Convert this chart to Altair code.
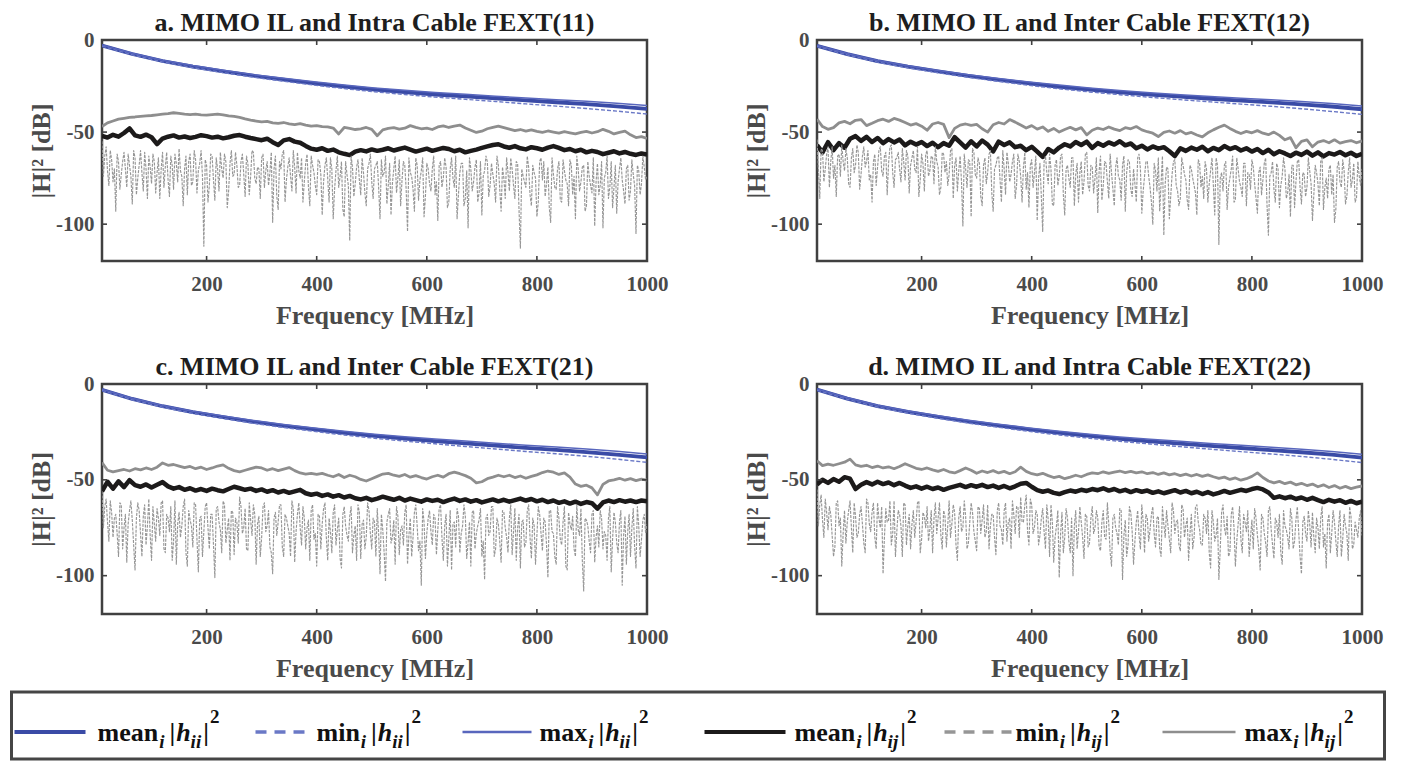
import numpy as np
import pandas as pd
import altair as alt

FONT = "Liberation Serif"
AXIS_COLOR = "#404040"
LABEL_COLOR = "#4a4a4a"
TITLE_COLOR = "#1e1e1e"

BLUE_MEAN = "#3a4ba6"
BLUE_MIN = "#6a78c6"
BLUE_MAX = "#5866bd"
BLACK = "#1c1a1a"
GRAY_MIN = "#969696"
GRAY_MAX = "#8e8e8e"

F_MIN, F_MAX = 10, 1000
X_TICKS = [200, 400, 600, 800, 1000]
Y_TICKS = [0, -50, -100]

TITLES = [
    "a. MIMO IL and Intra Cable FEXT(11)",
    "b. MIMO IL and Inter Cable FEXT(12)",
    "c. MIMO IL and Inter Cable FEXT(21)",
    "d. MIMO IL and Intra Cable FEXT(22)",
]

# ---------------- insertion loss |h_ii|^2 (19 points, 10..1000 MHz) ----------------
A_II_MEAN = [-3.0, -7.6, -11.4, -14.4, -17.0, -19.4, -21.5, -23.5, -25.3, -26.9, -28.3, -29.6, -30.6, -31.7, -32.8, -33.8, -34.8, -36.0, -37.4]
A_II_MIN = [-3.3, -8.0, -11.9, -15.0, -17.7, -20.2, -22.4, -24.5, -26.4, -28.1, -29.6, -31.0, -32.2, -33.4, -34.7, -35.9, -37.2, -38.6, -40.2]
A_II_MAX = [-2.7, -7.2, -11.0, -13.9, -16.4, -18.8, -20.8, -22.7, -24.4, -26.0, -27.3, -28.5, -29.5, -30.5, -31.5, -32.4, -33.3, -34.4, -35.6]

B_II_MEAN = [-3.1, -7.7, -11.5, -14.5, -17.1, -19.5, -21.6, -23.6, -25.4, -27.0, -28.4, -29.7, -30.8, -31.9, -32.9, -33.9, -34.9, -36.1, -37.6]
B_II_MIN = [-3.4, -8.1, -12.0, -15.1, -17.8, -20.3, -22.5, -24.6, -26.5, -28.2, -29.7, -31.1, -32.4, -33.6, -34.8, -36.0, -37.3, -38.8, -40.4]
B_II_MAX = [-2.8, -7.3, -11.1, -14.0, -16.5, -18.9, -20.9, -22.8, -24.5, -26.1, -27.4, -28.6, -29.7, -30.7, -31.6, -32.5, -33.4, -34.5, -35.8]

C_II_MEAN = [-3.0, -7.8, -11.6, -14.7, -17.3, -19.7, -21.8, -23.7, -25.5, -27.1, -28.5, -29.8, -31.0, -32.2, -33.3, -34.4, -35.5, -36.8, -38.3]
C_II_MIN = [-3.3, -8.2, -12.1, -15.3, -18.0, -20.5, -22.7, -24.7, -26.6, -28.3, -29.8, -31.2, -32.6, -33.9, -35.2, -36.4, -37.7, -39.2, -40.9]
C_II_MAX = [-2.7, -7.4, -11.2, -14.2, -16.7, -19.0, -21.1, -22.9, -24.6, -26.2, -27.5, -28.7, -29.8, -30.9, -31.9, -32.9, -33.9, -35.1, -36.5]

D_II_MEAN = [-2.9, -7.6, -11.5, -14.6, -17.2, -19.6, -21.7, -23.7, -25.5, -27.1, -28.6, -29.9, -31.1, -32.3, -33.4, -34.5, -35.6, -36.9, -38.4]
D_II_MIN = [-3.2, -8.0, -12.0, -15.2, -17.9, -20.4, -22.6, -24.7, -26.6, -28.3, -29.9, -31.3, -32.7, -34.0, -35.3, -36.5, -37.8, -39.3, -41.0]
D_II_MAX = [-2.6, -7.2, -11.1, -14.1, -16.6, -18.9, -21.0, -22.9, -24.6, -26.2, -27.6, -28.8, -29.9, -31.0, -32.0, -33.0, -34.0, -35.2, -36.6]

# ---------------- FEXT mean / max |h_ij|^2 (100 points, 10..1000 MHz) ----------------
A_IJ_MAX = [
    -47.0, -45.0, -44.0, -43.0, -42.5, -42.0, -41.8, -41.5, -41.2, -41.0,
    -40.6, -40.3, -40.0, -39.5, -39.8, -40.2, -40.5, -40.3, -40.6, -40.8,
    -40.5, -40.2, -40.6, -41.2, -41.5, -42.0, -42.8, -43.5, -44.0, -44.5,
    -44.2, -45.0, -45.3, -44.8, -45.5, -46.0, -45.4, -46.2, -46.8, -46.5,
    -47.0, -47.2, -47.8, -51.0, -47.5, -48.0, -48.6, -48.2, -47.5, -48.5,
    -52.0, -48.8, -48.0, -47.6, -48.4, -47.9, -46.5, -47.4, -48.2, -47.8,
    -48.6, -47.2, -46.6, -47.5, -46.8, -46.2, -47.8, -49.0, -50.2, -49.5,
    -48.2, -47.4, -46.8, -47.6, -48.4, -49.2, -48.6, -49.5, -48.8, -49.6,
    -50.2, -49.4, -50.0, -50.6, -49.8, -50.4, -51.0, -50.2, -49.6, -50.5,
    -49.8, -48.5, -49.6, -51.0, -50.2, -49.5, -51.5, -53.0, -52.5, -53.5,
]
A_IJ_MEAN = [
    -52.0, -53.0, -51.5, -52.5, -50.5, -48.0, -51.8, -52.6, -51.4, -52.8,
    -56.5, -53.5, -52.5, -51.8, -53.0, -52.4, -53.2, -52.6, -51.7, -52.2,
    -53.0, -52.5, -53.4, -52.8, -52.0, -51.6, -52.5, -53.2, -53.8, -54.4,
    -53.6, -55.5, -57.0, -54.5, -53.8, -55.2, -55.8, -57.5, -59.0, -59.6,
    -58.8, -60.2, -59.5, -61.0, -61.8, -62.5, -60.6, -59.8, -60.5, -59.4,
    -60.2, -59.6, -58.8, -60.0, -59.2, -58.4, -59.5, -60.6, -59.8, -59.0,
    -60.2, -59.4, -58.6, -59.2, -60.4, -59.6, -61.0, -60.2, -59.5, -58.6,
    -57.8, -57.0, -56.6, -57.8, -58.5, -57.6, -58.8, -59.4, -58.2, -58.8,
    -59.6, -58.4, -57.6, -58.6, -59.8, -59.2, -60.4, -59.6, -61.0, -60.2,
    -60.8, -62.0, -61.2, -60.4, -61.6, -60.8, -61.8, -62.4, -61.6, -62.2,
]
B_IJ_MAX = [
    -43.0, -47.0, -48.5, -47.6, -45.0, -44.2, -45.5, -43.6, -43.2, -46.5,
    -45.2, -43.8, -43.0, -44.2, -42.6, -43.5, -44.8, -46.2, -45.4, -46.8,
    -49.0, -45.6, -44.8, -45.8, -53.0, -48.0, -46.2, -45.6, -46.4, -45.8,
    -48.2, -50.0, -46.0, -44.8, -45.6, -43.2, -44.6, -46.2, -47.8, -46.5,
    -48.4, -47.2, -49.6, -48.0, -50.0, -48.6, -47.4, -48.8, -47.6, -51.5,
    -49.0, -47.8, -48.6, -47.2, -48.4, -49.2, -47.6, -48.2, -47.0, -48.8,
    -49.8, -50.6, -52.4, -50.2, -49.4, -50.6, -49.2, -51.0, -50.2, -51.6,
    -52.6, -50.4, -48.8, -47.4, -46.2, -48.0, -49.6, -50.8, -49.6, -50.4,
    -49.2, -50.6, -51.4, -50.0, -51.8, -54.2, -53.0, -58.5, -55.0, -54.2,
    -58.0, -55.4, -54.6, -55.8, -54.2, -56.0, -55.2, -54.6, -55.8, -54.8,
]
B_IJ_MEAN = [
    -57.0, -61.0, -55.5, -59.8, -56.0, -58.5, -53.6, -52.2, -54.8, -52.6,
    -55.4, -53.2, -56.0, -53.8, -55.6, -54.0, -57.2, -55.2, -56.8, -55.4,
    -57.6, -55.8, -58.2, -56.0, -57.4, -52.8, -55.6, -58.4, -55.0, -57.8,
    -54.6, -56.8, -60.5, -55.2, -57.0, -55.6, -58.2, -57.4, -59.8, -58.0,
    -60.6, -63.5, -59.2, -61.0, -58.4, -56.6, -57.8, -55.4, -57.0, -55.2,
    -58.6, -56.0, -57.4, -55.6, -56.8, -55.0, -57.2, -56.2, -58.8, -57.4,
    -59.4, -57.8, -59.0, -58.2, -60.4, -63.0, -58.8, -60.2, -58.4, -59.6,
    -58.0, -60.4, -58.6, -59.8, -57.6, -59.2, -58.2, -60.0, -58.8, -60.6,
    -59.2, -61.4, -59.6, -62.0, -60.4, -61.6, -63.0, -61.2, -62.4, -60.6,
    -62.8, -61.0, -63.2, -61.4, -62.2, -60.8, -62.6, -61.2, -63.0, -61.8,
]
C_IJ_MAX = [
    -41.0, -45.0, -45.8, -45.2, -44.6, -45.4, -44.2, -44.8, -43.8, -44.6,
    -43.4, -41.2, -42.4, -42.0, -42.8, -43.6, -43.0, -44.2, -43.4, -44.6,
    -43.8, -42.8, -42.2, -44.0, -45.2, -45.8, -45.0, -44.2, -43.4, -43.8,
    -45.0, -44.2, -45.2, -44.4, -43.6, -45.2, -46.4, -47.0, -46.6, -47.2,
    -46.6, -47.6, -48.4, -47.2, -48.8, -47.6, -48.4, -49.8, -50.6, -49.4,
    -48.2, -47.0, -46.6, -47.6, -48.2, -47.2, -48.6, -47.8, -48.8, -49.6,
    -48.4, -47.6, -48.6, -46.8, -46.0, -46.8, -47.8, -49.2, -51.6, -51.0,
    -49.4, -48.6, -47.6, -48.4, -47.6, -48.8, -48.0, -49.2, -48.2, -47.4,
    -46.2, -45.4, -46.0, -47.2, -46.4, -48.6, -52.2, -53.4, -52.8, -54.2,
    -57.8, -52.4, -50.6, -50.0, -49.2, -50.2, -49.4, -50.4, -49.6, -50.2,
]
C_IJ_MEAN = [
    -56.0, -51.0, -54.6, -50.8, -53.8, -50.2, -52.8, -53.6, -52.4, -54.0,
    -52.6, -51.2, -53.4, -54.6, -53.8, -55.2, -54.4, -55.6, -54.8, -55.8,
    -54.6, -55.4, -56.0, -54.8, -53.6, -54.4, -55.2, -54.6, -55.8, -55.0,
    -56.2, -55.4, -56.6, -55.8, -56.8, -56.0, -55.2, -57.0, -57.8, -57.2,
    -58.4, -57.6, -58.8, -58.0, -59.2, -58.4, -59.6, -60.2, -59.4, -60.6,
    -59.8, -58.8, -59.6, -60.4, -59.4, -60.8, -59.8, -60.6, -61.4, -60.2,
    -61.0, -60.4, -61.6, -60.6, -59.8, -61.0, -60.2, -61.4, -60.6, -61.8,
    -61.0, -60.2, -61.2, -60.4, -61.4, -60.6, -59.8, -60.8, -60.0, -61.2,
    -60.4, -61.6, -60.8, -62.0, -61.2, -62.4, -61.4, -62.6, -61.6, -62.2,
    -65.0, -61.8, -60.8, -61.6, -60.6, -61.4, -60.8, -61.6, -60.8, -61.2,
]
D_IJ_MAX = [
    -40.0, -42.6, -41.8, -42.4, -41.6, -40.8, -39.2, -42.2, -43.0, -42.4,
    -43.6, -42.8, -43.8, -43.2, -44.2, -43.0, -41.6, -42.8, -44.0, -44.6,
    -43.8, -44.8, -45.6, -44.6, -45.8, -46.4, -45.2, -43.8, -45.0, -46.6,
    -45.4, -46.2, -45.2, -46.4, -45.6, -46.8, -45.8, -43.4, -45.6, -46.8,
    -47.4, -46.6, -47.8, -48.8, -48.2, -49.4, -48.6, -47.6, -48.4, -47.2,
    -46.4, -46.8, -45.8, -46.6, -46.0, -45.4, -46.2, -45.6, -46.4, -45.8,
    -46.8, -46.2, -47.2, -46.4, -47.4, -46.8, -47.8, -47.0, -48.0, -47.2,
    -48.2, -47.4, -48.4, -49.2, -48.6, -49.8, -49.0, -50.2, -49.4, -48.2,
    -46.4, -48.8, -50.6, -51.6, -50.8, -52.0, -51.2, -52.6, -51.8, -53.0,
    -52.2, -53.6, -52.6, -54.0, -53.0, -54.4, -53.4, -54.6, -53.8, -53.2,
]
D_IJ_MEAN = [
    -52.4, -50.0, -51.6, -49.6, -51.0, -48.6, -49.4, -54.8, -52.6, -51.2,
    -52.4, -51.0, -52.2, -51.4, -52.8, -51.6, -53.0, -54.2, -53.4, -54.6,
    -53.6, -54.8, -54.0, -55.2, -54.2, -53.4, -52.6, -53.8, -52.8, -53.6,
    -52.6, -53.8, -53.0, -54.2, -53.2, -54.4, -53.4, -52.0, -51.6, -53.6,
    -55.4, -56.2, -55.6, -56.8, -57.4, -56.4, -55.6, -56.2, -55.2, -55.8,
    -54.8, -55.4, -54.4, -55.6, -54.8, -56.0, -55.2, -56.4, -55.4, -56.2,
    -55.6, -56.8, -56.0, -57.0, -56.2, -55.4, -56.6, -55.8, -57.0, -56.2,
    -57.4, -56.4, -57.6, -56.8, -55.8, -56.8, -56.0, -55.2, -55.8, -54.8,
    -54.2, -55.0, -56.6, -59.4, -58.6, -59.6, -58.8, -60.0, -59.2, -60.4,
    -59.4, -60.6, -61.6, -60.4, -61.4, -60.6, -62.0, -61.0, -62.2, -61.4,
]

# ---------------- FEXT min |h_ij|^2 ----------------
# read at 10, 15, ..., 1000 MHz (199 values)
A_IJ_MIN = [
    -55, -63, -71, -60, -77, -93, -66, -73, -61, -80, -68, -89, -64, -75, -60, -82, -70, -63, -78, -66,
    -72, -86, -61, -69, -76, -63, -81, -67, -59, -74, -70, -84, -62, -77, -65, -71, -60, -112, -68, -79,
    -63, -87, -70, -61, -75, -66, -82, -60, -73, -68, -79, -62, -85, -67, -74, -61, -78, -70, -64, -80,
    -66, -72, -99, -63, -92, -70, -60, -76, -64, -82, -69, -61, -75, -88, -67, -80, -63, -72, -84, -66,
    -95, -68, -75, -64, -97, -71, -80, -66, -96, -73, -109, -69, -78, -65, -84, -72, -90, -67, -77, -70,
    -66, -97, -74, -63, -79, -95, -70, -83, -65, -76, -68, -104, -72, -81, -64, -87, -71, -96, -67, -78,
    -70, -84, -98, -66, -75, -69, -88, -64, -80, -97, -72, -67, -86, -102, -70, -77, -65, -83, -95, -71,
    -66, -79, -73, -88, -68, -93, -75, -64, -82, -70, -86, -67, -113, -74, -80, -69, -90, -72, -96, -66,
    -76, -85, -69, -99, -73, -81, -66, -88, -71, -78, -65, -84, -97, -70, -77, -68, -90, -74, -83, -101,
    -67, -79, -102, -72, -86, -66, -80, -94, -70, -76, -89, -68, -82, -73, -105, -71, -78, -69, -74,
]
# read at 12.5, 17.5, ..., 997.5 MHz (198 values)
A_IJ_MIN_MID = [
    -74, -58, -79, -65, -70, -62, -81, -66, -70, -62, -74, -60, -84, -68, -72, -61, -86, -69, -62, -83,
    -64, -70, -80, -61, -85, -68, -62, -77, -71, -90, -63, -66, -79, -60, -83, -67, -74, -65, -88, -62,
    -76, -64, -82, -70, -62, -91, -67, -74, -61, -80, -66, -73, -63, -84, -60, -75, -69, -86, -62, -71,
    -79, -61, -70, -85, -66, -62, -88, -69, -74, -60, -83, -71, -64, -77, -62, -90, -68, -79, -65, -73,
    -77, -64, -88, -70, -81, -63, -74, -92, -66, -79, -63, -85, -69, -76, -64, -83, -70, -62, -86, -68,
    -80, -65, -72, -89, -67, -78, -63, -75, -90, -66, -81, -64, -74, -93, -68, -76, -64, -85, -70, -82,
    -63, -77, -68, -80, -64, -91, -70, -75, -63, -84, -67, -90, -71, -64, -82, -69, -88, -66, -74, -63,
    -85, -67, -78, -63, -81, -69, -86, -72, -64, -79, -66, -92, -70, -77, -63, -84, -68, -75, -88, -64,
    -66, -78, -91, -64, -80, -70, -87, -65, -76, -90, -68, -74, -63, -82, -69, -93, -66, -79, -64, -77,
    -84, -66, -75, -63, -80, -91, -68, -77, -64, -82, -70, -87, -65, -79, -68, -84, -63, -76,
]
B_IJ_MIN = [
    -54, -86, -60, -70, -58, -66, -75, -85, -62, -57, -71, -64, -80, -59, -68, -61, -73, -58, -66, -76,
    -88, -62, -69, -58, -74, -61, -67, -57, -80, -64, -70, -59, -76, -63, -68, -60, -72, -85, -62, -82,
    -60, -71, -64, -58, -69, -80, -62, -66, -73, -59, -68, -82, -63, -101, -70, -65, -96, -61, -75, -67,
    -90, -64, -72, -60, -93, -68, -63, -88, -70, -61, -77, -66, -86, -62, -74, -69, -81, -91, -65, -72,
    -98, -67, -104, -63, -78, -70, -90, -65, -74, -62, -95, -68, -80, -64, -73, -88, -66, -77, -61, -82,
    -69, -75, -94, -63, -79, -67, -86, -72, -90, -64, -76, -68, -93, -65, -81, -70, -88, -62, -94, -74,
    -66, -80, -100, -71, -64, -78, -106, -69, -97, -73, -65, -82, -86, -68, -76, -92, -70, -79, -95, -67,
    -74, -66, -88, -71, -79, -64, -111, -72, -68, -92, -75, -63, -87, -70, -80, -67, -90, -73, -65, -78,
    -94, -69, -76, -64, -106, -72, -81, -67, -91, -74, -70, -83, -96, -68, -77, -65, -89, -73, -80, -71,
    -98, -68, -78, -66, -92, -75, -70, -84, -99, -69, -77, -65, -89, -72, -80, -67, -86, -74, -70,
]
B_IJ_MIN_MID = [
    -70, -59, -77, -62, -80, -58, -68, -63, -74, -66, -59, -78, -64, -72, -57, -81, -63, -69, -60, -73,
    -66, -79, -60, -71, -63, -84, -58, -72, -65, -61, -77, -66, -60, -83, -64, -70, -58, -76, -67, -62,
    -74, -63, -78, -66, -84, -61, -72, -79, -60, -86, -64, -71, -77, -62, -80, -66, -59, -73, -64, -85,
    -68, -78, -62, -83, -70, -64, -76, -60, -84, -67, -73, -62, -79, -66, -88, -61, -72, -68, -80, -63,
    -75, -85, -66, -72, -62, -89, -68, -79, -63, -84, -70, -75, -64, -90, -67, -72, -84, -62, -79, -68,
    -83, -64, -71, -87, -66, -77, -62, -81, -69, -74, -87, -63, -72, -66, -85, -78, -64, -70, -82, -66,
    -74, -88, -67, -82, -93, -63, -78, -70, -85, -66, -79, -90, -64, -73, -87, -68, -75, -83, -65, -80,
    -86, -70, -78, -64, -95, -68, -75, -82, -66, -80, -70, -88, -64, -77, -85, -67, -72, -81, -69, -86,
    -72, -84, -67, -90, -74, -66, -88, -70, -79, -64, -86, -73, -68, -91, -66, -80, -72, -85, -64, -78,
    -84, -72, -90, -64, -80, -86, -68, -73, -92, -66, -80, -71, -85, -64, -76, -88, -66, -79,
]
C_IJ_MIN = [
    -56, -64, -72, -61, -80, -68, -90, -63, -75, -93, -66, -71, -97, -62, -78, -69, -84, -60, -92, -73,
    -65, -79, -61, -88, -70, -64, -82, -94, -67, -74, -60, -95, -71, -85, -63, -98, -69, -77, -62, -86,
    -68, -101, -64, -76, -61, -83, -70, -66, -89, -72, -59, -78, -65, -87, -71, -63, -94, -69, -80, -62,
    -74, -85, -99, -67, -72, -63, -90, -70, -78, -61, -93, -68, -75, -64, -86, -71, -66, -81, -95, -69,
    -73, -62, -92, -77, -67, -84, -70, -96, -64, -79, -69, -88, -74, -63, -91, -71, -80, -66, -86, -72,
    -65, -99, -76, -103, -68, -83, -71, -64, -89, -74, -67, -94, -70, -80, -63, -87, -105, -72, -78, -66,
    -84, -70, -76, -63, -92, -68, -81, -97, -72, -65, -88, -74, -69, -83, -95, -66, -78, -71, -90, -102,
    -68, -77, -64, -86, -73, -93, -67, -80, -70, -89, -65, -75, -96, -71, -83, -63, -91, -74, -79, -68,
    -87, -72, -101, -66, -78, -94, -70, -84, -64, -97, -73, -69, -90, -76, -65, -108, -71, -82, -68, -93,
    -74, -66, -86, -79, -70, -98, -67, -83, -72, -105, -69, -77, -90, -65, -96, -74, -81, -68, -73,
]
C_IJ_MIN_MID = [
    -75, -60, -82, -67, -70, -78, -62, -86, -68, -73, -61, -84, -70, -66, -90, -63, -74, -79, -64, -82,
    -70, -62, -86, -68, -77, -92, -61, -73, -80, -64, -88, -66, -74, -62, -81, -70, -90, -64, -75, -68,
    -84, -65, -72, -88, -63, -76, -92, -67, -70, -83, -64, -75, -86, -62, -79, -68, -73, -90, -64, -77,
    -66, -88, -70, -79, -63, -85, -68, -74, -90, -65, -77, -62, -84, -70, -75, -92, -63, -78, -68, -86,
    -65, -80, -70, -88, -63, -76, -91, -68, -74, -82, -64, -79, -92, -67, -73, -86, -62, -78, -70, -90,
    -78, -68, -88, -72, -65, -80, -94, -69, -76, -84, -63, -79, -90, -67, -74, -82, -65, -91, -70, -77,
    -68, -89, -65, -80, -74, -95, -66, -73, -85, -69, -78, -63, -91, -72, -67, -86, -74, -65, -82, -70,
    -79, -64, -90, -70, -82, -66, -75, -88, -63, -77, -92, -68, -72, -85, -66, -80, -70, -94, -64, -78,
    -70, -84, -66, -77, -90, -64, -81, -72, -95, -67, -76, -86, -63, -79, -92, -70, -74, -88, -66, -80,
    -85, -70, -77, -92, -64, -81, -72, -88, -66, -79, -94, -68, -75, -85, -64, -90, -71, -78,
]
D_IJ_MIN = [
    -55, -63, -71, -60, -76, -68, -90, -62, -74, -95, -66, -72, -61, -88, -69, -78, -64, -83, -60, -73,
    -67, -80, -62, -75, -99, -65, -71, -84, -61, -77, -68, -90, -63, -74, -86, -66, -72, -61, -81, -69,
    -64, -76, -88, -62, -70, -79, -66, -85, -61, -73, -67, -92, -64, -75, -69, -83, -62, -77, -87, -65,
    -71, -80, -63, -74, -68, -89, -62, -76, -66, -82, -70, -61, -78, -64, -59, -72, -58, -84, -63, -75,
    -68, -79, -65, -86, -71, -63, -93, -74, -101, -67, -80, -70, -88, -100, -66, -77, -72, -91, -69, -83,
    -64, -75, -70, -87, -66, -81, -73, -95, -68, -78, -65, -102, -71, -84, -67, -94, -72, -79, -63, -88,
    -70, -76, -64, -85, -69, -90, -73, -66, -81, -62, -78, -71, -87, -65, -74, -92, -68, -80, -63, -76,
    -84, -70, -66, -96, -72, -79, -102, -67, -75, -69, -88, -64, -95, -73, -81, -68, -77, -90, -71, -65,
    -79, -97, -70, -83, -66, -76, -91, -72, -68, -94, -74, -80, -65, -86, -71, -77, -99, -69, -82, -73,
    -67, -88, -75, -70, -85, -96, -68, -78, -72, -90, -66, -81, -74, -92, -69, -84, -76, -70, -79,
]
D_IJ_MIN_MID = [
    -74, -58, -80, -67, -64, -79, -85, -61, -70, -78, -83, -66, -75, -62, -80, -68, -73, -88, -62, -77,
    -62, -86, -70, -64, -80, -72, -61, -78, -90, -66, -74, -62, -84, -68, -73, -80, -62, -88, -67, -75,
    -82, -66, -70, -78, -62, -86, -69, -74, -80, -63, -84, -70, -77, -61, -86, -72, -67, -82, -64, -78,
    -63, -77, -86, -68, -80, -66, -74, -84, -62, -72, -86, -68, -64, -80, -72, -63, -77, -60, -78, -66,
    -84, -70, -77, -63, -90, -72, -80, -66, -78, -88, -65, -82, -70, -74, -86, -64, -80, -68, -85, -70,
    -78, -66, -85, -72, -80, -62, -88, -70, -75, -84, -66, -79, -90, -64, -77, -82, -66, -86, -72, -68,
    -82, -68, -78, -70, -86, -64, -80, -74, -88, -66, -72, -84, -63, -80, -70, -78, -86, -64, -72, -84,
    -68, -78, -88, -66, -82, -70, -86, -63, -79, -90, -68, -75, -82, -64, -88, -72, -66, -80, -86, -70,
    -86, -68, -78, -90, -64, -84, -70, -80, -88, -66, -76, -86, -70, -82, -64, -90, -72, -78, -66, -85,
    -80, -70, -86, -64, -78, -72, -88, -66, -82, -74, -90, -68, -78, -64, -86, -72, -80, -66,
]

PANELS = [
    (TITLES[0], A_II_MEAN, A_II_MIN, A_II_MAX, A_IJ_MEAN, (A_IJ_MIN, A_IJ_MIN_MID), A_IJ_MAX),
    (TITLES[1], B_II_MEAN, B_II_MIN, B_II_MAX, B_IJ_MEAN, (B_IJ_MIN, B_IJ_MIN_MID), B_IJ_MAX),
    (TITLES[2], C_II_MEAN, C_II_MIN, C_II_MAX, C_IJ_MEAN, (C_IJ_MIN, C_IJ_MIN_MID), C_IJ_MAX),
    (TITLES[3], D_II_MEAN, D_II_MIN, D_II_MAX, D_IJ_MEAN, (D_IJ_MIN, D_IJ_MIN_MID), D_IJ_MAX),
]

# ---------------- layout ----------------
W = 545
H_TOP = 221
H_BOT = 230
H_SPACING = 72
ROW_GAP = 22
LEG_GAP = 6
LEG_H = 67
TICK = 5
TITLE_OFFSET = -7
OX = 99.5          # page x of the left plot edge (used by the hand-built legend)
LEFT_EDGE = -92    # common left bound of the rows and the legend box

AX = alt.Axis(values=X_TICKS, title="Frequency [MHz]", ticks=False, domain=False,
              grid=False, labelFlush=False, labelPadding=12, titlePadding=8, format="d")
AY = alt.Axis(values=Y_TICKS, title="|H|² [dB]", ticks=False, domain=False,
              grid=False, labelPadding=8, titlePadding=1,
              labelExpr="datum.value < 0 ? '-' + (-datum.value) : '' + datum.value")


def frame(vals):
    if isinstance(vals, tuple):
        main, mid = vals
        f = np.concatenate([np.linspace(F_MIN, F_MAX, len(main)),
                            np.linspace(F_MIN + 2.5, F_MAX - 2.5, len(mid))])
        df = pd.DataFrame({"f": f, "v": list(main) + list(mid)})
        return df.sort_values("f").reset_index(drop=True)
    return pd.DataFrame({"f": np.linspace(F_MIN, F_MAX, len(vals)), "v": vals})


def panel(title, ii_mean, ii_min, ii_max, ij_mean, ij_min, ij_max, h, left):
    xs = alt.Scale(domain=[F_MIN, F_MAX], nice=False, zero=False)
    ys = alt.Scale(domain=[-120, 0], nice=False, zero=False)
    specs = [
        (ii_mean, BLUE_MEAN, 3.8, None),
        (ii_min, BLUE_MIN, 1.4, [4, 2]),
        (ii_max, BLUE_MAX, 1.5, None),
        (ij_mean, BLACK, 4.5, None),
        (ij_min, GRAY_MIN, 1.15, [3, 1.2]),
        (ij_max, GRAY_MAX, 2.8, None),
    ]
    layers = []
    for vals, color, width, dash in specs:
        mk = dict(color=color, strokeWidth=width, clip=True, strokeJoin="round")
        if dash:
            mk["strokeDash"] = dash
        layers.append(alt.Chart(frame(vals)).mark_line(**mk).encode(
            x=alt.X("f:Q", scale=xs, axis=AX),
            y=alt.Y("v:Q", scale=ys, axis=AY),
            order="f:Q"))

    xt = pd.DataFrame({"f": X_TICKS})
    yt = pd.DataFrame({"v": Y_TICKS})
    for y0, y1 in [(0, TICK), (h - TICK, h)]:
        layers.append(alt.Chart(xt).mark_rule(color=AXIS_COLOR, strokeWidth=1.6).encode(
            x=alt.X("f:Q", scale=xs, axis=AX), y=alt.value(y0), y2=alt.value(y1)))
    for x0, x1 in [(0, TICK), (W - TICK, W)]:
        layers.append(alt.Chart(yt).mark_rule(color=AXIS_COLOR, strokeWidth=1.6).encode(
            y=alt.Y("v:Q", scale=ys, axis=AY), x=alt.value(x0), x2=alt.value(x1)))
    if left:
        # invisible spacer so the row's left bound matches the legend box
        layers.append(alt.Chart(pd.DataFrame({"k": [0]})).mark_rule(
            color="white", strokeWidth=1).encode(
            x=alt.value(LEFT_EDGE + 0.5), y=alt.value(0), y2=alt.value(1)))

    return alt.layer(*layers).properties(
        width=W, height=h,
        title=alt.TitleParams(title, font=FONT, fontSize=26, fontWeight="bold",
                              color=TITLE_COLOR, offset=TITLE_OFFSET,
                              anchor="middle"),
    )


# ---------------- legend (hand built, math-style labels) ----------------
LEG_FS = 26
LEG_SUB = 19
WORD_EM = {"mean": 2.333, "min": 1.667, "max": 1.833}
LINE_Y = 40
BASE_Y = 49
SUB_Y = 56
SUP_Y = 31
LEGEND_ITEMS = [
    # line x0, line x1, text x0 (page px), word, subscript, color, width, dash
    (12, 83, 95, "mean", "ii", BLUE_MEAN, 4.0, None),
    (253, 310, 314, "min", "ii", BLUE_MIN, 3.5, [11, 8]),
    (460, 529, 537, "max", "ii", BLUE_MAX, 2.5, None),
    (702, 783, 792, "mean", "ij", BLACK, 4.0, None),
    (942, 1009, 1013, "min", "ij", GRAY_MIN, 3.5, [11, 8]),
    (1160, 1233, 1242, "max", "ij", GRAY_MAX, 2.5, None),
]

dummy = pd.DataFrame({"k": [0]})
base = alt.Chart(dummy)


def txt(s, xx, yy, size, italic):
    return base.mark_text(
        text=s, font=FONT, fontSize=size, fontWeight="bold",
        fontStyle="italic" if italic else "normal", align="left",
        baseline="alphabetic", color="#111111",
    ).encode(x=alt.value(xx), y=alt.value(yy))


leg_layers = [
    base.mark_rect(fill="white", fillOpacity=0, stroke="#454545", strokeWidth=3).encode(
        x=alt.value(LEFT_EDGE + 1.5), x2=alt.value(1382 - OX),
        y=alt.value(0), y2=alt.value(LEG_H))
]
for lx0, lx1, tx0, word, sub, color, width, dash in LEGEND_ITEMS:
    rk = dict(color=color, strokeWidth=width)
    if dash:
        rk["strokeDash"] = dash
    leg_layers.append(base.mark_rule(**rk).encode(
        x=alt.value(lx0 - OX), x2=alt.value(lx1 - OX), y=alt.value(LINE_Y)))
    x0 = tx0 - OX
    leg_layers.append(txt(word, x0, BASE_Y, LEG_FS, False))
    xs1 = x0 + WORD_EM[word] * LEG_FS + 1
    leg_layers.append(txt("i", xs1, SUB_Y, LEG_SUB, True))
    xb1 = xs1 + 0.278 * LEG_SUB + 5
    leg_layers.append(txt("|", xb1, BASE_Y, LEG_FS, False))
    xh = xb1 + 0.22 * LEG_FS + 1
    leg_layers.append(txt("h", xh, BASE_Y, LEG_FS, True))
    xs2 = xh + 0.556 * LEG_FS
    leg_layers.append(txt(sub, xs2, SUB_Y, LEG_SUB, True))
    xb2 = xs2 + 0.556 * LEG_SUB + 2
    leg_layers.append(txt("|", xb2, BASE_Y, LEG_FS, False))
    xsup = xb2 + 0.22 * LEG_FS + 1
    leg_layers.append(txt("2", xsup, SUP_Y, LEG_SUB, False))

legend = alt.layer(*leg_layers).properties(
    width=2 * W + 171, height=LEG_H,
    view=alt.ViewBackground(stroke="transparent"),
)

p = [panel(*PANELS[i], H_TOP if i < 2 else H_BOT, i % 2 == 0) for i in range(4)]
row1 = alt.hconcat(p[0], p[1], spacing=H_SPACING)
row2 = alt.hconcat(p[2], p[3], spacing=H_SPACING)
grid = alt.vconcat(row1, row2, spacing=ROW_GAP)

chart = alt.vconcat(grid, legend, spacing=LEG_GAP).properties(
    padding=0
).configure_view(
    stroke=AXIS_COLOR, strokeWidth=2.5
).configure_axis(
    labelFont=FONT, labelFontSize=21, labelFontWeight="bold", labelColor=LABEL_COLOR,
    titleFont=FONT, titleFontSize=26, titleFontWeight="bold", titleColor=LABEL_COLOR,
    grid=False,
)

chart.save("out.html", embed_options={"renderer": "svg", "actions": False})
